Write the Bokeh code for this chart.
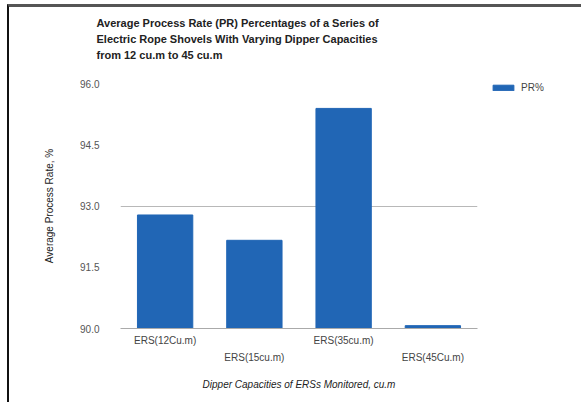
from bokeh.plotting import figure
from bokeh.models import (FixedTicker, Legend, LegendItem, ColumnDataSource, Range1d,
                          CategoricalAxis, CustomJSTickFormatter, Title)
from bokeh.layouts import row
from bokeh.embed import file_html
from bokeh.resources import INLINE

categories = ["ERS(12Cu.m)", "ERS(15cu.m)", "ERS(35cu.m)", "ERS(45Cu.m)"]
pr_values = [92.78, 92.16, 95.39, 90.07]
y_ticks = [90.0, 91.5, 93.0, 94.5, 96.0]
series_name = "PR%"
title_text = ("Average Process Rate (PR) Percentages of a Series of\n"
              "Electric Rope Shovels With Varying Dipper Capacities\n"
              "from 12 cu.m to 45 cu.m")
bar_color = "#2166b5"

src = ColumnDataSource(dict(cat=categories, val=pr_values))

p = figure(x_range=categories, y_range=Range1d(90, 96), width=471, height=395,
           output_backend="svg", toolbar_location=None,
           min_border_left=111, min_border_right=3, min_border_top=76, min_border_bottom=74)
p.title = None
# spacer between the plot frame and the title block
p.add_layout(Title(text=" ", text_font_size="10px", standoff=8), "above")
p.add_layout(Title(text=title_text, text_font="Liberation Sans", text_font_size="11px",
                   text_font_style="bold", text_color="#222222", align="left",
                   vertical_align="top", offset=-24, standoff=0, text_line_height=1.35),
             "above")

r = p.vbar(x="cat", top="val", bottom=90, width=0.62, source=src,
           fill_color=bar_color, line_color=bar_color)

p.outline_line_color = None
p.background_fill_color = "white"
p.xgrid.grid_line_color = None
p.ygrid.ticker = FixedTicker(ticks=[93.0])
p.ygrid.grid_line_color = "#b8b8b8"

p.yaxis.ticker = FixedTicker(ticks=y_ticks)
p.yaxis.major_label_overrides = {t: f"{t:.1f}" for t in y_ticks}
p.yaxis.axis_line_color = None
p.yaxis.major_tick_line_color = None
p.yaxis.minor_tick_line_color = None
p.yaxis.major_label_text_font = "Liberation Sans"
p.yaxis.major_label_text_font_size = "10px"
p.yaxis.major_label_text_color = "#555555"
p.yaxis.major_label_standoff = 15
p.yaxis.axis_label = "Average Process Rate, %"
p.yaxis.axis_label_text_font = "Liberation Sans"
p.yaxis.axis_label_text_font_size = "10px"
p.yaxis.axis_label_text_font_style = "normal"
p.yaxis.axis_label_text_color = "#222222"
p.yaxis.axis_label_standoff = 22

# first row of staggered category labels (even positions)
xa = p.xaxis[0]
xa.axis_line_color = "#aaaaaa"
xa.major_tick_line_color = None
xa.minor_tick_line_color = None
xa.formatter = CustomJSTickFormatter(code="return (index % 2 === 0) ? tick : '';")
xa.major_label_text_font = "Liberation Sans"
xa.major_label_text_font_size = "10px"
xa.major_label_text_color = "#444444"
xa.major_label_standoff = 0

# second row (odd positions) with axis title
xb = CategoricalAxis()
xb.axis_line_color = None
xb.major_tick_line_color = None
xb.minor_tick_line_color = None
xb.formatter = CustomJSTickFormatter(code="return (index % 2 === 1) ? tick : '';")
xb.major_label_text_font = "Liberation Sans"
xb.major_label_text_font_size = "10px"
xb.major_label_text_color = "#444444"
xb.major_label_standoff = -3
xb.axis_label = "Dipper Capacities of ERSs Monitored, cu.m"
xb.axis_label_text_font = "Liberation Sans"
xb.axis_label_text_font_size = "10px"
xb.axis_label_text_font_style = "italic"
xb.axis_label_text_color = "#222222"
xb.axis_label_standoff = 13
p.add_layout(xb, "below")

# legend panel on the right
pl = figure(width=101, height=395, output_backend="svg", toolbar_location=None,
            x_range=Range1d(0, 1), y_range=Range1d(0, 1),
            min_border_left=0, min_border_right=0, min_border_top=64, min_border_bottom=0)
pl.axis.visible = False
pl.grid.visible = False
pl.outline_line_color = None
dummy = pl.vbar(x=[float("nan")], top=[float("nan")], width=0.5,
                fill_color=bar_color, line_color=bar_color)
legend = Legend(items=[LegendItem(label=series_name, renderers=[dummy])],
                location=(10, 235), border_line_color=None, background_fill_alpha=0,
                glyph_width=26, glyph_height=7, padding=0, margin=0,
                label_text_font="Liberation Sans", label_text_font_size="10px",
                label_text_color="#444444", label_standoff=5)
pl.add_layout(legend)

layout = row(p, pl, styles={"border-top": "3px solid #555555", "border-left": "2px solid #111111",
                            "margin-left": "7px", "margin-top": "4px"})
open("out.html", "w").write(file_html(layout, INLINE))
